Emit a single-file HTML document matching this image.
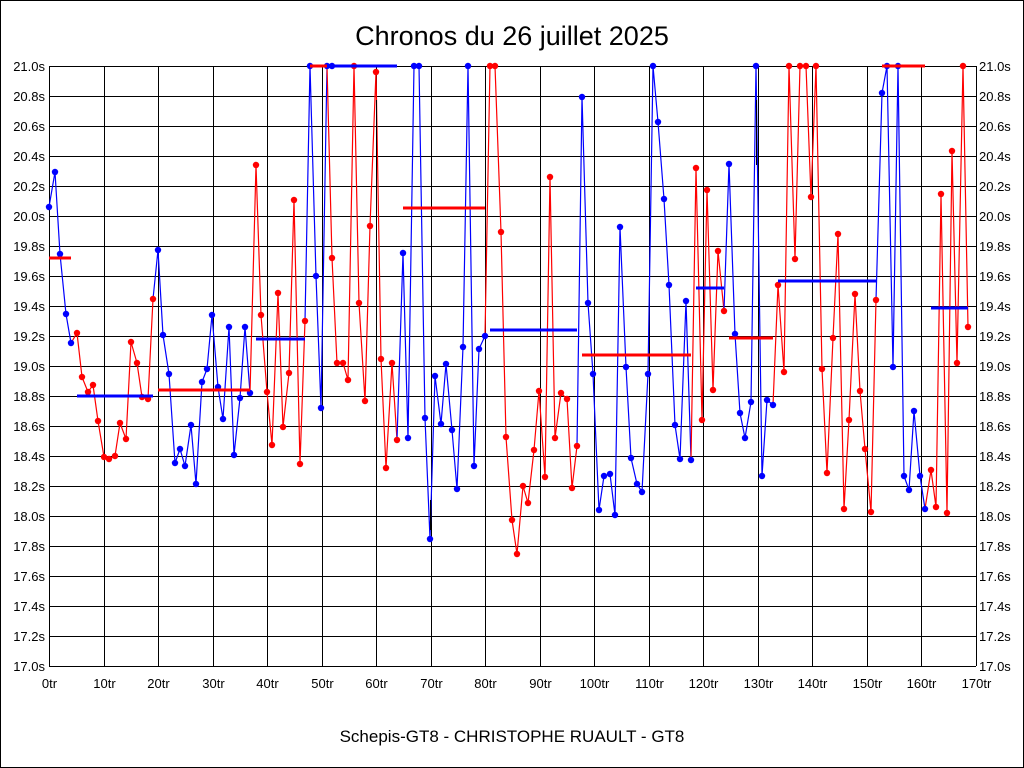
<!DOCTYPE html><html><head><style>body{margin:0;background:#fff}svg{display:block}</style></head><body>
<svg width="1024" height="768" xmlns="http://www.w3.org/2000/svg" font-family="Liberation Sans, sans-serif">
<rect x="0.5" y="0.5" width="1023" height="767" fill="#fff" stroke="#000"/>
<text x="512" y="45" font-size="27" text-anchor="middle">Chronos du 26 juillet 2025</text>
<text x="512" y="742" font-size="17" text-anchor="middle">Schepis-GT8 - CHRISTOPHE RUAULT - GT8</text>
<g id="grid" stroke="#000" stroke-width="1"></g>
<g id="lab" font-size="13"></g>
<g id="data"></g>
<script>
var g=document.getElementById('grid'),l=document.getElementById('lab'),d=document.getElementById('data'),NS='http://www.w3.org/2000/svg';
function el(p,t,a,txt){var e=document.createElementNS(NS,t);for(var k in a)e.setAttribute(k,a[k]);if(txt)e.textContent=txt;p.appendChild(e);return e;}
for(var i=0;i<=20;i++){var y=66+i*30;el(g,'line',{x1:49,x2:976,y1:y+0.5,y2:y+0.5});var v=(21-i*0.2).toFixed(1)+'s';
el(l,'text',{x:45,y:y+5,'text-anchor':'end'},v);el(l,'text',{x:979,y:y+5},v);}
for(var i=0;i<=17;i++){var x=Math.round(49+i*54.5)+0.5;el(g,'line',{x1:x,x2:x,y1:66,y2:666});el(l,'text',{x:x,y:688,'text-anchor':'middle'},(i*10)+'tr');}
var segs=[['b',[[49,207],[55,172],[60,254],[66,314],[71,343]]],
['r',[[71,343],[77,333],[82,377],[88,392],[93,385],[98,421],[104,457],[109,459],[115,456],[120,423],[126,439],[131,342],[137,363],[142,397],[148,399],[153,299]]],
['b',[[153,299],[158,250],[163,335],[169,374],[175,463],[180,449],[185,466],[191,425],[196,484],[202,382],[207,369],[212,315],[218,387],[223,419],[229,327],[234,455],[240,398],[245,327],[250,393]]],
['r',[[250,393],[256,165],[261,315],[267,392],[272,445],[278,293],[283,427],[289,373],[294,200],[300,464],[305,321]]],
['b',[[305,321],[310,66],[316,276],[321,408],[327,66],[332,66]]],
['r',[[327,66],[332,258],[337,363],[343,363],[348,380],[354,66],[359,303],[365,401],[370,226],[376,72],[381,359],[386,468],[392,363],[397,440]]],
['b',[[397,440],[403,253],[408,438],[414,66],[419,66],[425,418],[430,539],[435,376],[441,424],[446,364],[452,430],[457,489],[463,347],[468,66],[474,466],[479,349],[485,336]]],
['r',[[485,336],[490,66],[495,66],[501,232],[506,437],[512,520],[517,554],[523,486],[528,503],[534,450],[539,391],[545,477],[550,177],[555,438],[561,393],[567,399],[572,488],[577,446]]],
['b',[[577,446],[582,97],[588,303],[593,374],[599,510],[604,476],[610,474],[615,515],[620,227],[626,367],[631,458],[637,484],[642,492],[648,374],[653,66],[658,122],[664,199],[669,285],[675,425],[680,459],[686,301],[691,460]]],
['r',[[691,460],[696,168],[702,420],[707,190],[713,390],[718,251],[724,311]]],
['b',[[724,311],[729,164],[735,334],[740,413],[745,438],[751,402],[756,66],[762,476],[767,400],[773,405]]],
['r',[[773,405],[778,285],[784,372],[789,66],[795,259],[800,66],[806,66],[811,197],[816,66],[822,369],[827,473],[833,338],[838,234],[844,509],[849,420],[855,294],[860,391],[865,449],[871,512],[876,300]]],
['b',[[876,300],[882,93],[887,66],[893,367],[898,66],[904,476],[909,490],[914,411],[920,476],[925,509]]],
['r',[[925,509],[931,470],[936,507],[941,194],[947,513],[952,151],[957,363],[963,66],[968,327]]]];
var C={r:'#f00',b:'#00f'};
segs.forEach(function(s){el(d,'polyline',{points:s[1].join(' '),fill:'none',stroke:C[s[0]],'stroke-width':1.2});});
el(d,'line',{x1:376.5,x2:376.5,y1:100,y2:180,stroke:'#000'});el(d,'line',{x1:430.5,x2:430.5,y1:500,y2:530,stroke:'#000'});el(d,'line',{x1:756.5,x2:756.5,y1:100,y2:165,stroke:'#000'});
segs.forEach(function(s){s[1].forEach(function(p,i){if(i==0&&s!==segs[0])return;el(d,'circle',{cx:p[0],cy:p[1],r:3.2,fill:C[s[0]]});});});
var bars=[['r',49,71,258],['b',77,153,396],['r',158,250,390],['b',256,305,339],['r',310,327,66],['b',327,397,66],['r',403,485,208],['b',490,577,330],['r',582,691,355],['b',696,724,288],['r',729,773,338],['b',778,876,281],['r',882,925,66],['b',931,968,308]];
bars.forEach(function(b){el(d,'line',{x1:b[1],x2:b[2],y1:b[3],y2:b[3],stroke:C[b[0]],'stroke-width':3});});
</script>
</svg></body></html>
